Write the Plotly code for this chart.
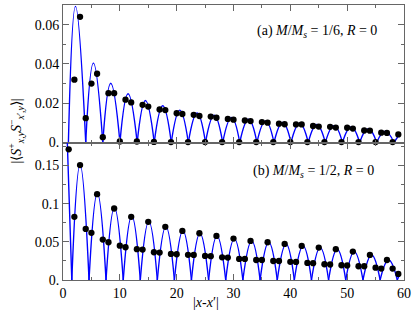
import plotly.graph_objects as go
from plotly.subplots import make_subplots

# ---------------- data ----------------
x_sites = list(range(1, 60))

# panel (a) M/Ms = 1/6 : lattice points
corr_a = [None, 0.032, 0.064, 0.0124, 0.030, 0.035, 0.0027, 0.0251, 0.0251, 0.0005,
          0.0218, 0.0204, 0.0005, 0.0192, 0.0183, 0.0003, 0.0168, 0.0165, 0.0002, 0.0149,
          0.0145, 0.0002, 0.0141, 0.0135, 0.0002, 0.0132, 0.0126, 0.0002, 0.0120, 0.0116,
          0.0002, 0.0112, 0.0109, 0.0002, 0.0104, 0.0101, 0.0002, 0.0096, 0.0093, 0.0002,
          0.0092, 0.0092, 0.0002, 0.0084, 0.0081, 0.0002, 0.0080, 0.0076, 0.0002, 0.0075,
          0.0071, 0.0002, 0.0061, 0.0060, 0.0002, 0.0050, 0.0049, 0.0002, 0.0041]

# panel (b) M/Ms = 1/2 : lattice points
corr_b = [0.171, 0.0827, 0.1505, 0.0669, 0.0617, 0.1124, 0.0529, 0.0494, 0.0936, 0.0450,
          0.0429, 0.0827, 0.0403, 0.0398, 0.0761, 0.0363, 0.0359, 0.0696, 0.0341, 0.0337,
          0.0643, 0.0330, 0.0328, 0.0612, 0.0315, 0.0312, 0.0577, 0.0297, 0.0294, 0.0542,
          0.0276, 0.0276, 0.0512, 0.0262, 0.0262, 0.0494, 0.0249, 0.0249, 0.0472, 0.0238,
          0.0236, 0.0446, 0.0223, 0.0220, 0.0424, 0.0206, 0.0203, 0.0403, 0.0193, 0.0190,
          0.0372, 0.0180, 0.0180, 0.0328, 0.0162, 0.0149, 0.0262, 0.0149, 0.0079]

# fitted curve (a): zeros and arch maxima
fit_a_zero = [0.95, 4.0, 7.0, 10.02, 13.05, 16.05, 19.05, 22.05, 25.07, 28.1,
              31.1, 34.12, 37.12, 40.12, 43.15, 46.15, 49.17, 52.2, 55.2, 58.22]
fit_a_peak_x = [2.2, 5.35, 8.4, 11.45, 14.5, 17.55, 20.55, 23.6, 26.6, 29.65,
                32.65, 35.65, 38.65, 41.65, 44.65, 47.7, 50.7, 53.7, 56.7]
fit_a_peak_y = [0.0693, 0.0404, 0.0302, 0.0248, 0.0214, 0.0187, 0.0165, 0.0150, 0.0139, 0.0128,
                0.0118, 0.0110, 0.0102, 0.0098, 0.0092, 0.0086, 0.0079, 0.0070, 0.0058]
fit_a_tail_x = [58.22, 59.3]
fit_a_tail_y = [0.0, 0.0045]

# fitted curve (b)
fit_b_zero = [1.55, 4.58, 7.57, 10.6, 13.6, 16.6, 19.6, 22.6, 25.62, 28.63,
              31.65, 34.68, 37.7, 40.7, 43.72, 46.73, 49.75, 52.78, 55.8, 58.82]
fit_b_peak_x = [3.0, 6.05, 9.05, 12.1, 15.1, 18.1, 21.1, 24.1, 27.1, 30.15,
                33.2, 36.2, 39.25, 42.25, 45.25, 48.25, 51.25, 54.3, 57.3]
fit_b_peak_y = [0.1508, 0.1135, 0.0947, 0.0838, 0.0768, 0.0702, 0.0645, 0.0612, 0.0577, 0.0542,
                0.0512, 0.0494, 0.0472, 0.0446, 0.0424, 0.0403, 0.0372, 0.0328, 0.0262]
fit_b_head_x = [0.3, 0.76, 1.55]
fit_b_head_y = [0.30, 0.18, 0.0]
fit_b_tail_x = [58.82, 59.3]
fit_b_tail_y = [0.0, 0.009]

# ticks
x_ticks = [0, 10, 20, 30, 40, 50, 60]
x_minor = [5, 15, 25, 35, 45, 55]
ya_ticks = [0, 0.02, 0.04, 0.06]
ya_text = ["0.", "0.02", "0.04", "0.06"]
ya_minor = [0.01, 0.03, 0.05, 0.07]
yb_ticks = [0, 0.05, 0.1, 0.15]
yb_text = ["0.", "0.05", "0.1", "0.15"]
yb_minor = [0.025, 0.075, 0.125, 0.175]


def build_curve(zeros, px, py, head=None, tail=None):
    cx, cy = [], []
    if head:
        cx += list(head[0]) + [None]
        cy += list(head[1]) + [None]
    for i in range(len(px)):
        cx += [zeros[i], px[i], zeros[i + 1], None]
        cy += [0.0, py[i], 0.0, None]
    if tail:
        cx += list(tail[0])
        cy += list(tail[1])
    return cx, cy


ax_, ay_ = build_curve(fit_a_zero, fit_a_peak_x, fit_a_peak_y, tail=(fit_a_tail_x, fit_a_tail_y))
bx_, by_ = build_curve(fit_b_zero, fit_b_peak_x, fit_b_peak_y,
                       head=(fit_b_head_x, fit_b_head_y), tail=(fit_b_tail_x, fit_b_tail_y))

fig = make_subplots(rows=2, cols=1, shared_xaxes=False, vertical_spacing=0.0)

line_style = dict(color="#0000ff", width=1.4, shape="spline", smoothing=1.3)
mk = dict(color="black", size=6.3)

fig.add_trace(go.Scatter(x=ax_, y=ay_, mode="lines", line=line_style, hoverinfo="skip"), row=1, col=1)
fig.add_trace(go.Scatter(x=x_sites, y=corr_a, mode="markers", marker=mk, cliponaxis=False), row=1, col=1)
fig.add_trace(go.Scatter(x=bx_, y=by_, mode="lines", line=line_style, hoverinfo="skip"), row=2, col=1)
fig.add_trace(go.Scatter(x=x_sites, y=corr_b, mode="markers", marker=mk, cliponaxis=False), row=2, col=1)

font = dict(family="Liberation Serif", size=14, color="black")
axcol = "#666666"
common = dict(showline=True, linecolor=axcol, linewidth=1, mirror="allticks", ticks="inside",
              ticklen=6, tickcolor=axcol, tickwidth=1, showgrid=False, zeroline=False,
              tickfont=font, automargin=False)

fig.update_xaxes(range=[0, 60], tickvals=x_ticks,
                 minor=dict(tickvals=x_minor, ticks="inside", ticklen=3, tickcolor=axcol),
                 **common)
fig.update_xaxes(showticklabels=False, row=1, col=1)
fig.update_yaxes(range=[0, 0.07], tickvals=ya_ticks, ticktext=ya_text,
                 minor=dict(tickvals=ya_minor, ticks="inside", ticklen=3, tickcolor=axcol),
                 row=1, col=1, **common)
fig.update_yaxes(range=[0, 0.18], tickvals=yb_ticks, ticktext=yb_text,
                 minor=dict(tickvals=yb_minor, ticks="inside", ticklen=3, tickcolor=axcol),
                 row=2, col=1, **common)

fig.update_layout(
    width=415, height=312,
    margin=dict(l=63, r=11, t=5, b=32),
    plot_bgcolor="white", paper_bgcolor="white",
    showlegend=False,
    font=font,
    annotations=[
        dict(text="(a) <i>M</i>/<i>M<sub>s</sub></i> = 1/6, <i>R</i> = 0", xref="paper", yref="paper",
             x=0.927, y=0.905, xanchor="right", yanchor="middle", showarrow=False, font=font),
        dict(text="(b) <i>M</i>/<i>M<sub>s</sub></i> = 1/2, <i>R</i> = 0", xref="paper", yref="paper",
             x=0.918, y=0.394, xanchor="right", yanchor="middle", showarrow=False, font=font),
        dict(text="|<i>x</i>-<i>x</i>\u2032|", xref="paper", yref="paper",
             x=(206 - 63) / 341, y=-0.08, xanchor="center", yanchor="middle", showarrow=False,
             font=font),
        dict(text="|\u27e8<i>S</i><sup>+</sup><sub><i>x</i>,<i>y</i></sub><i>S</i><sup>\u2212</sup><sub><i>x</i>\u2032,<i>y</i></sub>\u27e9|",
             xref="paper", yref="paper", x=-(63 - 16) / 341, y=0.54, textangle=-90,
             xanchor="center", yanchor="middle", showarrow=False, font=font),
    ],
)

fig.write_html("out.html", config={"displayModeBar": False},
               post_script="document.body.style.margin='0';document.body.style.overflow='hidden';")
